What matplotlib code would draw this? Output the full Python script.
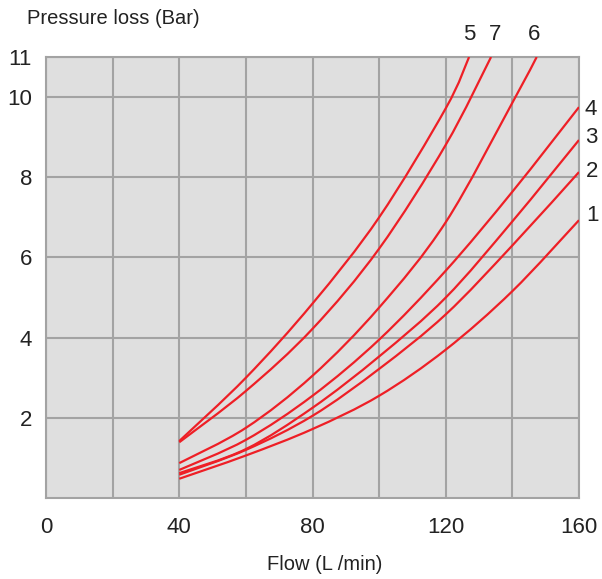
import numpy as np
import matplotlib
matplotlib.use("Agg")
import matplotlib.pyplot as plt
from matplotlib.path import Path
from matplotlib.patches import PathPatch

plt.rcParams['font.family'] = ['Liberation Sans', 'DejaVu Sans']

# flow (L/min) and pressure loss (bar) for each curve
flow_full = [40, 60, 80, 100, 120, 140, 160]
curve_1 = [0.48, 1.06, 1.72, 2.55, 3.70, 5.16, 6.93]
curve_2 = [0.58, 1.20, 2.05, 3.22, 4.58, 6.30, 8.13]
curve_3 = [0.62, 1.22, 2.25, 3.53, 5.00, 6.90, 8.93]
curve_4 = [0.70, 1.45, 2.55, 3.95, 5.67, 7.64, 9.75]

flow_6 = [40, 60, 80, 100, 120, 140, 147.3]
curve_6 = [0.87, 1.75, 3.05, 4.75, 6.88, 9.86, 11.0]

flow_7 = [40, 60, 80, 100, 120, 133.6]
curve_7 = [1.39, 2.67, 4.22, 6.22, 8.81, 11.0]

flow_5 = [40, 60, 80, 100, 120, 127.0]
curve_5 = [1.42, 3.00, 4.85, 7.00, 9.72, 11.0]

curves = {
    '1': (flow_full, curve_1),
    '2': (flow_full, curve_2),
    '3': (flow_full, curve_3),
    '4': (flow_full, curve_4),
    '5': (flow_5, curve_5),
    '6': (flow_6, curve_6),
    '7': (flow_7, curve_7),
}

# where the curve numbers sit
label_pos = {
    '5': (127.0, 11.55),
    '7': (134.8, 11.55),
    '6': (146.6, 11.55),
    '4': (163.6, 9.7),
    '3': (163.6, 8.98),
    '2': (163.8, 8.15),
    '1': (164.0, 7.05),
}

x_labels = ['0', '', '40', '', '80', '', '120', '', '160']
y_ticks = [2, 4, 6, 8, 10, 11]

red = '#ee1f26'
grid_c = '#a3a3a3'
txt_c = '#222222'


def smooth_path(xs, ys):
    # Catmull-Rom through the points, as cubic bezier segments
    p = np.column_stack([xs, ys]).astype(float)
    ext = np.vstack([p[0], p, p[-1]])
    verts = [p[0]]
    codes = [Path.MOVETO]
    for i in range(len(p) - 1):
        p0, p1, p2, p3 = ext[i], ext[i + 1], ext[i + 2], ext[i + 3]
        verts += [p1 + (p2 - p0) / 6, p2 - (p3 - p1) / 6, p2]
        codes += [Path.CURVE4] * 3
    return Path(verts, codes)


fig = plt.figure(figsize=(6.02, 5.79), dpi=100)
ax = fig.add_axes([46/602, 1-498/579, 533/602, 441/579])
ax.set_facecolor('#dfdfdf')

for name, (fx, fy) in curves.items():
    ax.add_patch(PathPatch(smooth_path(fx, fy), facecolor='none',
                           edgecolor=red, lw=1.6, capstyle='butt', zorder=3))
    lx, ly = label_pos[name]
    ax.text(lx, ly, name, fontsize=16, color=txt_c, ha='center', va='center',
            clip_on=False)

ax.set_xlim(0, 160)
ax.set_ylim(0, 11)
ax.set_xticks(np.arange(0, 161, 20))
ax.set_xticklabels(x_labels)
ax.set_yticks(y_ticks)
ax.set_yticklabels([str(v) for v in y_ticks])
ax.tick_params(length=0, labelsize=16, colors=txt_c)
ax.tick_params(axis='x', pad=14)
ax.tick_params(axis='y', pad=10)
ax.grid(True, color=grid_c, lw=1.5, zorder=1)
ax.set_axisbelow(True)
for s in ax.spines.values():
    s.set_color(grid_c)
    s.set_linewidth(1.5)

fig.text(27/602, 1-18/579, 'Pressure loss (Bar)', fontsize=14.5, color=txt_c,
         ha='left', va='center')
fig.text(325/602, 1-565/579, 'Flow (L /min)', fontsize=14.5, color=txt_c,
         ha='center', va='center')

fig.savefig('out.png', dpi=100)
